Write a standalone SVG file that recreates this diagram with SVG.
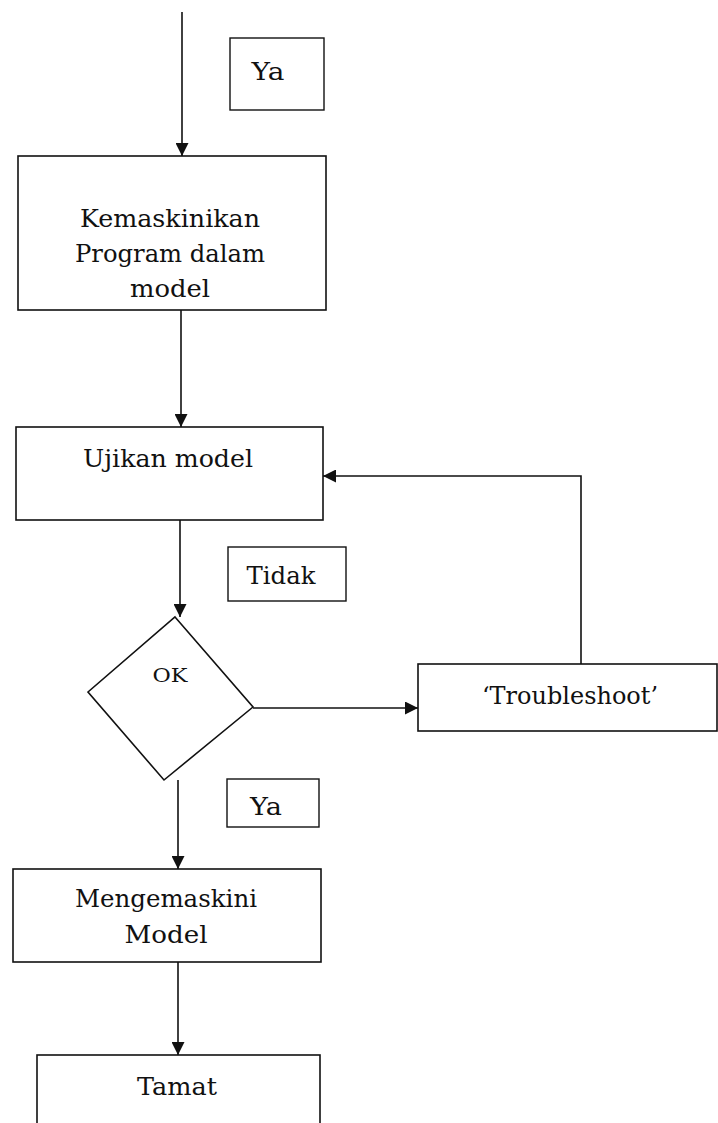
<svg xmlns="http://www.w3.org/2000/svg" width="718" height="1123" viewBox="0 0 718 1123">
<style>
.box{fill:#fff;stroke:#111;stroke-width:1.6}
.lbl{fill:#fff;stroke:#111;stroke-width:1.4}
.t{font-family:"DejaVu Serif","Liberation Serif",serif;font-size:24px;fill:#111;text-anchor:middle}
.c{fill:none;stroke:#111;stroke-width:1.6}
</style>
<defs>
<marker id="ah" viewBox="0 0 12 12" refX="12" refY="6" markerWidth="13" markerHeight="13" markerUnits="userSpaceOnUse" orient="auto">
<path d="M0,0 L12,6 L0,12 z" fill="#111"/>
</marker>
</defs>
<rect width="718" height="1123" fill="#fff"/>
<g id="connectors">
<path class="c" d="M182,12 L182,156" marker-end="url(#ah)"/>
<path class="c" d="M181,310 L181,427" marker-end="url(#ah)"/>
<path class="c" d="M180,520 L180,617" marker-end="url(#ah)"/>
<path class="c" d="M253,708 L418,708" marker-end="url(#ah)"/>
<path class="c" d="M581,664 L581,476 L323,476" marker-end="url(#ah)"/>
<path class="c" d="M178,780 L178,869" marker-end="url(#ah)"/>
<path class="c" d="M178,962 L178,1055" marker-end="url(#ah)"/>
</g>
<g id="label-ya1">
<rect class="lbl" x="230" y="38" width="94" height="72"/>
<text class="t" x="268" y="80" textLength="33" lengthAdjust="spacingAndGlyphs">Ya</text>
</g>
<g id="node-kemaskinikan">
<rect class="box" x="18" y="156" width="308" height="154"/>
<text class="t" x="170" y="227" textLength="180" lengthAdjust="spacingAndGlyphs">Kemaskinikan</text>
<text class="t" x="170" y="262" textLength="190" lengthAdjust="spacingAndGlyphs">Program dalam</text>
<text class="t" x="170" y="297" textLength="80" lengthAdjust="spacingAndGlyphs">model</text>
</g>
<g id="node-ujikan">
<rect class="box" x="16" y="427" width="307" height="93"/>
<text class="t" x="168" y="467" textLength="170" lengthAdjust="spacingAndGlyphs">Ujikan model</text>
</g>
<g id="label-tidak">
<rect class="lbl" x="228" y="547" width="118" height="54"/>
<text class="t" x="281" y="584" textLength="69" lengthAdjust="spacingAndGlyphs">Tidak</text>
</g>
<g id="node-ok">
<polygon class="box" points="175,617 253,707 164,780 88,692"/>
<text class="t" x="170" y="682" textLength="35" lengthAdjust="spacingAndGlyphs" style="font-size:19px">OK</text>
</g>
<g id="node-troubleshoot">
<rect class="box" x="418" y="664" width="299" height="67"/>
<text class="t" x="570" y="704" textLength="176" lengthAdjust="spacingAndGlyphs">‘Troubleshoot’</text>
</g>
<g id="label-ya2">
<rect class="lbl" x="227" y="779" width="92" height="48"/>
<text class="t" x="266" y="815" textLength="32" lengthAdjust="spacingAndGlyphs">Ya</text>
</g>
<g id="node-mengemaskini">
<rect class="box" x="13" y="869" width="308" height="93"/>
<text class="t" x="166" y="907" textLength="182" lengthAdjust="spacingAndGlyphs">Mengemaskini</text>
<text class="t" x="166" y="943" textLength="83" lengthAdjust="spacingAndGlyphs">Model</text>
</g>
<g id="node-tamat">
<rect class="box" x="37" y="1055" width="283" height="80"/>
<text class="t" x="177" y="1095" textLength="80" lengthAdjust="spacingAndGlyphs">Tamat</text>
</g>
</svg>
